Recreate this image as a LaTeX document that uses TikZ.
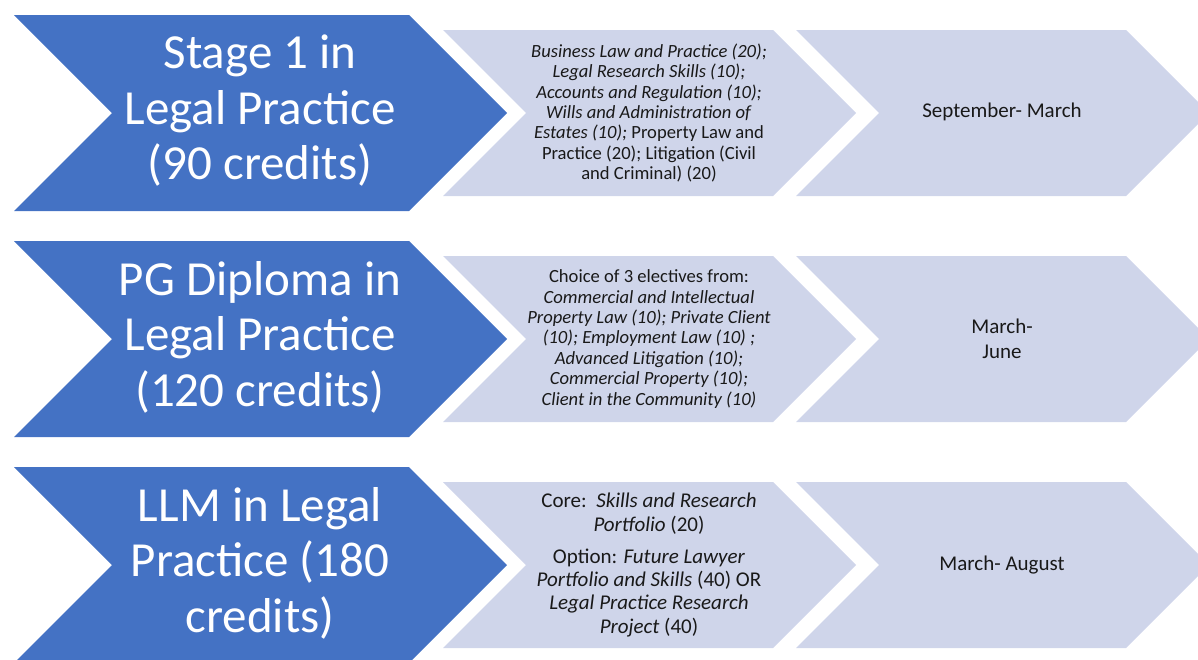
\documentclass[tikz,border=0pt]{standalone}
\usepackage{fontspec}
\setmainfont{Carlito}
\definecolor{stageblue}{HTML}{4472C4}
\definecolor{termgrey}{HTML}{CFD5EA}
\tikzset{
  stage/.style={text=white,align=center,inner sep=0pt,font=\fontsize{49}{55.5}\selectfont},
  modules/.style={text=black!90,align=center,inner sep=0pt,font=\fontsize{18.6}{20.4}\selectfont},
  months/.style={text=black!90,align=center,inner sep=0pt,font=\fontsize{21}{25}\selectfont}
}
\begin{document}
\begin{tikzpicture}[x=1pt,y=-1pt]
    \clip (0,0) rectangle (1198,659);
    % one row of chevrons per award, 226 apart
    \foreach \r in {0,1,2} {
    \fill[stageblue] (14,15+226*\r) -- ++(395,0) -- ++(98,98) -- ++(-98,98) -- ++(-395,0) -- ++(98,-98) -- cycle;
    \foreach \x in {443,796}
    \fill[termgrey] (\x,30+226*\r) -- ++(330,0) -- ++(83,83) -- ++(-83,83) -- ++(-330,0) -- ++(83,-83) -- cycle;
    }
    \node[stage] (stage1) at (260,111) {Stage 1 in\\Legal Practice\\(90 credits)};
    \node[stage] (stage2) at (260,337) {PG Diploma in\\Legal Practice\\(120 credits)};
    \node[stage] (stage3) at (260,563) {LLM in Legal\\Practice (180\\credits)};
    \node[modules] (mod1) at (649,113) {\textit{Business Law and Practice (20);}\\
      \textit{Legal Research Skills (10);}\\
      \textit{Accounts and Regulation (10);}\\
      \textit{Wills and Administration of}\\
      \textit{Estates (10);} Property Law and\\
      Practice (20); Litigation (Civil\\
      and Criminal) (20)};
    \node[modules] (mod2) at (649,339) {Choice of 3 electives from:\\
      \textit{Commercial and Intellectual}\\
      \textit{Property Law (10); Private Client}\\
      \textit{(10); Employment Law (10) ;}\\
      \textit{Advanced Litigation (10);}\\
      \textit{Commercial Property (10);}\\
      \textit{Client in the Community (10)}};
    \node[modules,font=\fontsize{21}{23.3}\selectfont] (mod3) at (649,565) {Core:\ \ \textit{Skills and Research}\\
      \textit{Portfolio} (20)\\[9pt]
      Option: \textit{Future Lawyer}\\
      \textit{Portfolio and Skills} (40) OR\\
      \textit{Legal Practice Research}\\
      \textit{Project} (40)};
    \node[months] (term1) at (1002,112) {September- March};
    \node[months] (term2) at (1002,339) {March-\\June};
    \node[months] (term3) at (1002,565) {March- August};
\end{tikzpicture}
\end{document}
